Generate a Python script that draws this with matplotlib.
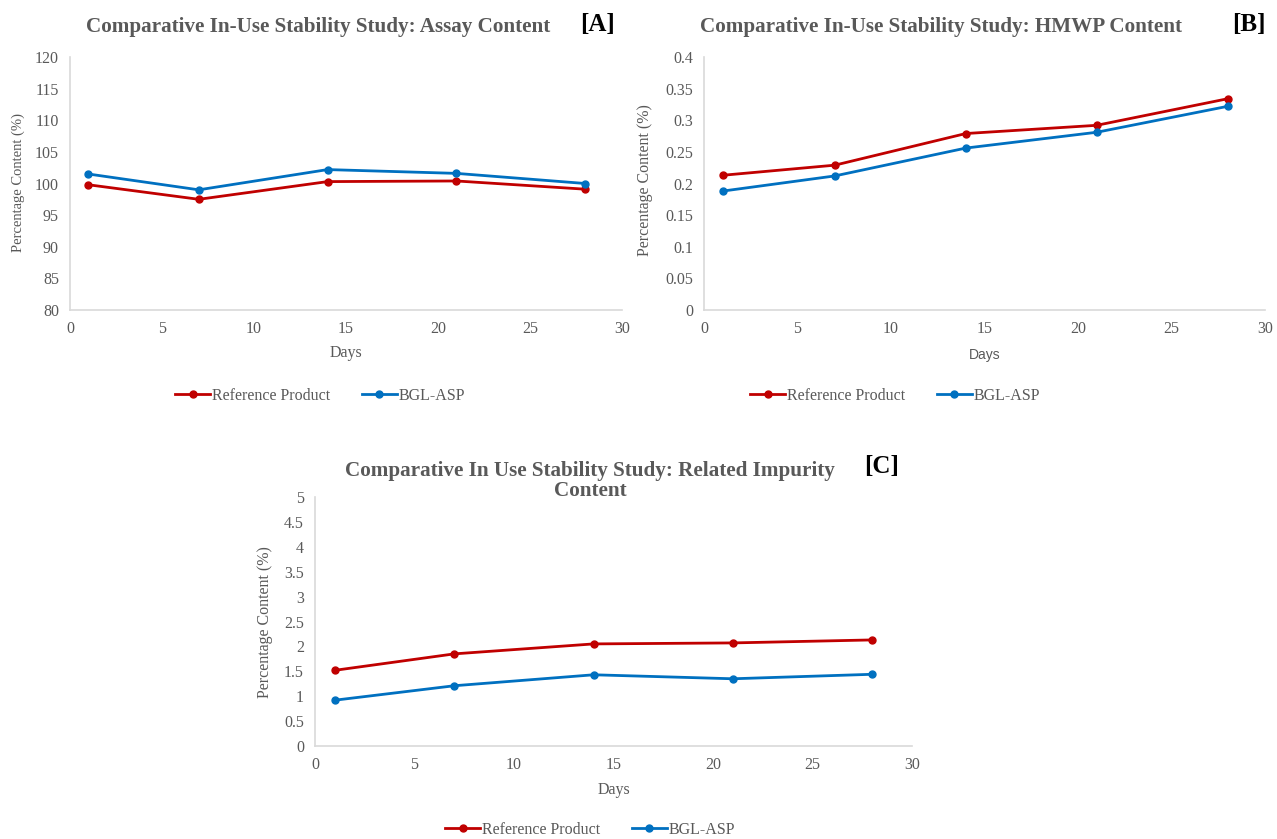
import matplotlib.pyplot as plt
from matplotlib.lines import Line2D

# sampling days and measured content for each study
days = [1, 7, 14, 21, 28]

assay_ref = [99.8, 97.5, 100.3, 100.4, 99.1]
assay_bgl = [101.5, 99.0, 102.2, 101.6, 100.0]

hmwp_ref = [0.213, 0.229, 0.279, 0.292, 0.334]
hmwp_bgl = [0.188, 0.212, 0.256, 0.281, 0.322]

impurity_ref = [1.52, 1.85, 2.05, 2.07, 2.13]
impurity_bgl = [0.92, 1.21, 1.43, 1.35, 1.44]

series_names = ['Reference Product', 'BGL-ASP']
panel_titles = ['Comparative In-Use Stability Study: Assay Content',
                'Comparative In-Use Stability Study: HMWP Content',
                'Comparative In Use Stability Study: Related Impurity\nContent']
panel_tags = ['[A]', '[B]', '[C]']

RED = '#C00000'
BLUE = '#0070C0'
GREY = '#595959'
AXIS = '#D9D9D9'

plt.rcParams['font.family'] = ['Liberation Serif', 'DejaVu Serif']

W, H = 1277, 839
fig = plt.figure(figsize=(W / 100, H / 100), dpi=100)


def px(x, y):
    # pixel position (from top-left) to figure fraction
    return x / W, 1 - y / H


def panel(box, ref, bgl, ylim, yticks):
    left, top, right, bottom = box
    ax = fig.add_axes([left / W, 1 - bottom / H, (right - left) / W, (bottom - top) / H])
    ax.plot(days, ref, color=RED, lw=2, marker='o', ms=5, label=series_names[0])
    ax.plot(days, bgl, color=BLUE, lw=2, marker='o', ms=5, label=series_names[1])
    ax.set_xlim(0, 30)
    ax.set_ylim(*ylim)
    ax.set_xticks(range(0, 31, 5))
    ax.set_yticks(yticks)
    ax.set_yticklabels(['%g' % round(v, 3) for v in yticks])
    for s in ['top', 'right']:
        ax.spines[s].set_visible(False)
    for s in ['left', 'bottom']:
        ax.spines[s].set_color(AXIS)
        ax.spines[s].set_linewidth(1.2)
    ax.tick_params(length=0, labelsize=11.5, colors=GREY, pad=8)
    ax.tick_params(axis='y', pad=8)
    return ax


axA = panel((70, 57, 622, 310), assay_ref, assay_bgl, (80, 120),
            list(range(80, 121, 5)))
axB = panel((704, 57, 1265, 310), hmwp_ref, hmwp_bgl, (0, 0.4),
            [i * 0.05 for i in range(9)])
axC = panel((315, 497, 912, 746), impurity_ref, impurity_bgl, (0, 5),
            [i * 0.5 for i in range(11)])

# titles and panel tags
fig.text(*px(318, 27), panel_titles[0], ha='center', va='center',
         fontsize=15.2, fontweight='bold', color=GREY)
fig.text(*px(597, 24), panel_tags[0], ha='center', va='center',
         fontsize=18, fontweight='bold', color='black')
fig.text(*px(941, 27), panel_titles[1], ha='center', va='center',
         fontsize=15.2, fontweight='bold', color=GREY)
fig.text(*px(1249, 24), panel_tags[1], ha='center', va='center',
         fontsize=18, fontweight='bold', color='black')
fig.text(*px(590, 481), panel_titles[2], ha='center', va='center',
         multialignment='center', fontsize=15.2, fontweight='bold', color=GREY,
         linespacing=1.0)
fig.text(*px(882, 467), panel_tags[2], ha='center', va='center',
         fontsize=18, fontweight='bold', color='black')

# axis labels
fig.text(*px(346, 353), 'Days', ha='center', va='center', fontsize=11.5, color=GREY)
fig.text(*px(985, 355), 'Days', ha='center', va='center', fontsize=10,
         color=GREY, family=['Liberation Sans', 'DejaVu Sans'])
fig.text(*px(614, 790), 'Days', ha='center', va='center', fontsize=11.5, color=GREY)

fig.text(*px(18, 183), 'Percentage Content (%)', ha='center', va='center',
         rotation=90, fontsize=10.5, color=GREY)
fig.text(*px(645, 180), 'Percentage Content (%)', ha='center', va='center',
         rotation=90, fontsize=11.5, color=GREY)
fig.text(*px(265, 622), 'Percentage Content (%)', ha='center', va='center',
         rotation=90, fontsize=11.5, color=GREY)

# legends below each panel
handles = [Line2D([], [], color=RED, lw=2, marker='o', ms=5),
           Line2D([], [], color=BLUE, lw=2, marker='o', ms=5)]
for cx, cy in [(320, 396), (895, 396), (590, 830)]:
    fig.legend(handles, series_names, loc='center', bbox_to_anchor=px(cx, cy),
               ncol=2, frameon=False, fontsize=11.5, handlelength=2.2,
               handletextpad=0.1, columnspacing=2.0, labelcolor=GREY)

fig.savefig('out.png', dpi=100)
